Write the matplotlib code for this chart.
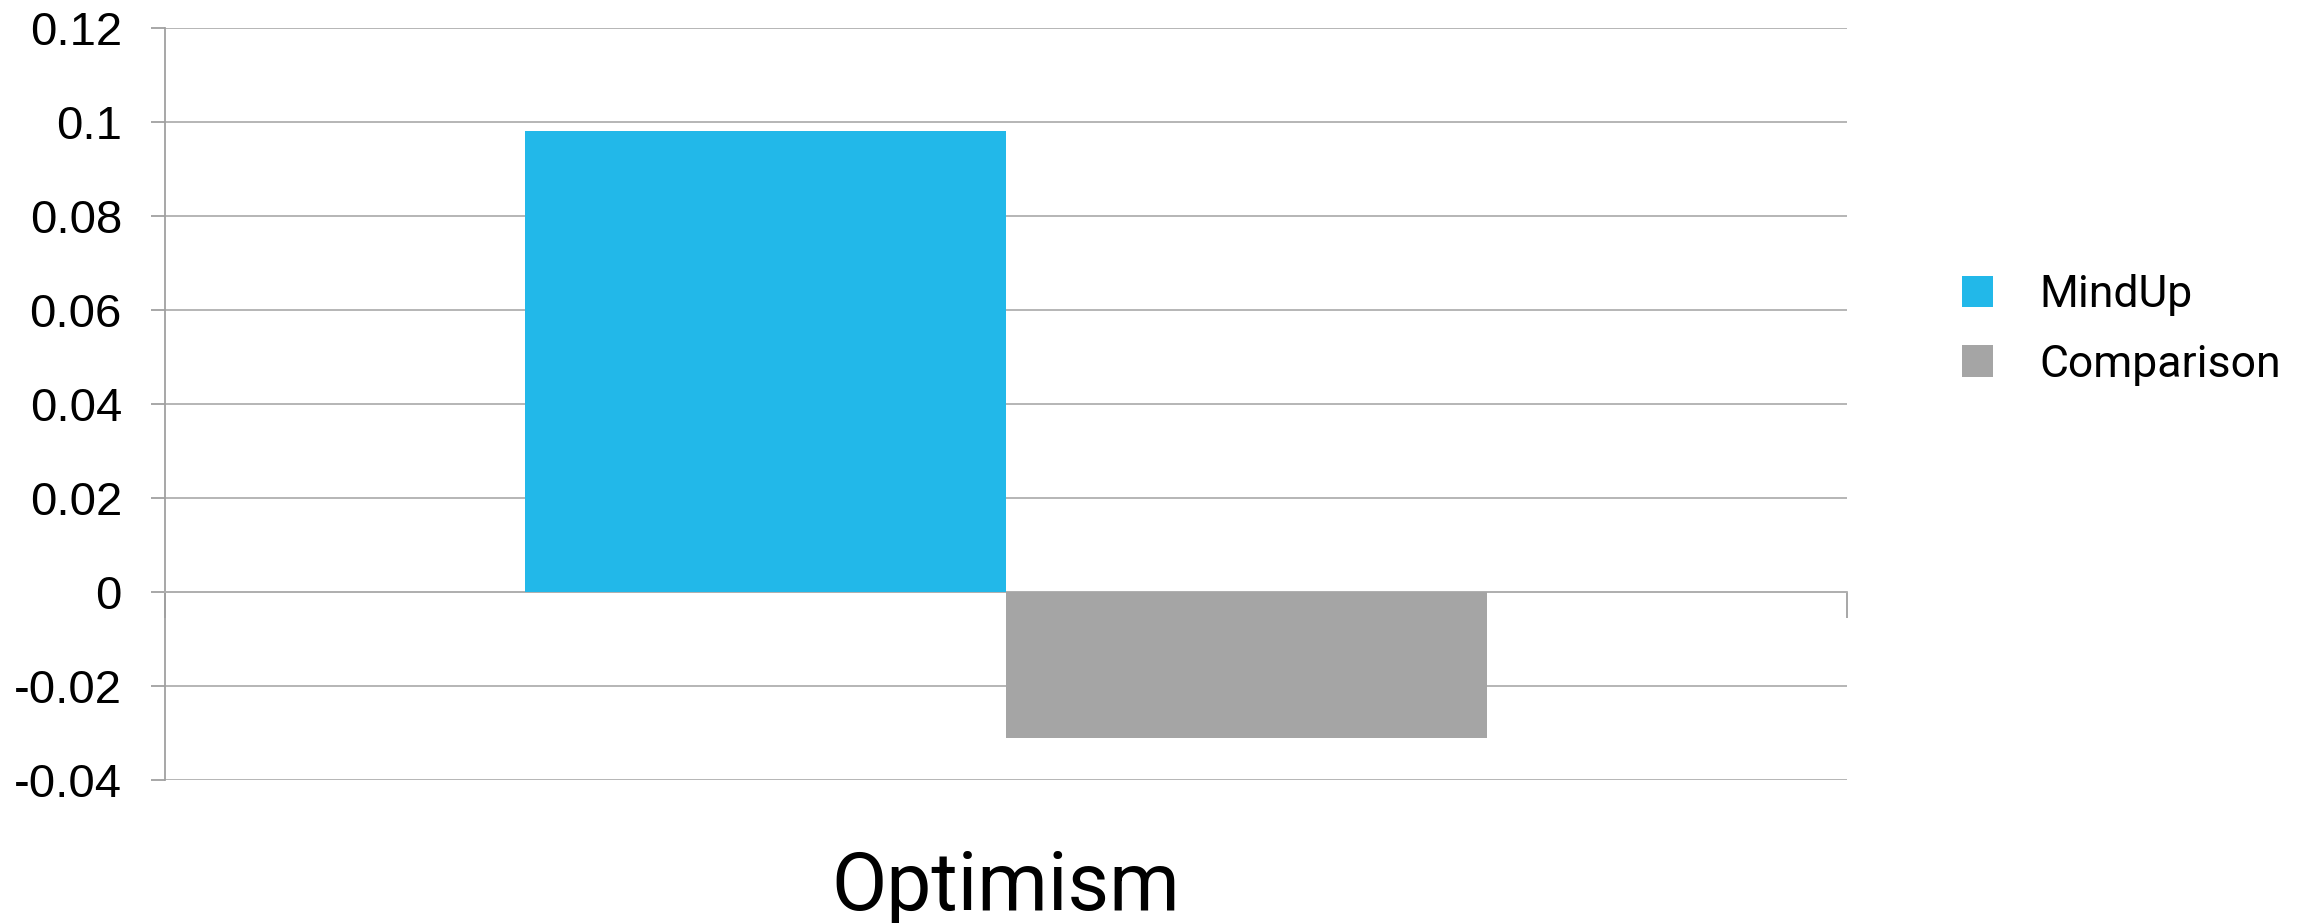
import matplotlib
matplotlib.use("Agg")
from matplotlib import pyplot as plt
from matplotlib.patches import Patch
import numpy as np

# mean change scores, one category
category = "Optimism"
series = ["MindUp", "Comparison"]
values = [0.098, -0.031]
colors = ["#22B8E9", "#A5A5A5"]
yticks = [-0.04, -0.02, 0, 0.02, 0.04, 0.06, 0.08, 0.1, 0.12]
ytick_labels = ["-0.04", "-0.02", "0", "0.02", "0.04", "0.06", "0.08", "0.1", "0.12"]

W, H = 2313, 923
fig = plt.figure(figsize=(W / 100, H / 100), dpi=100)
ax = fig.add_axes([165 / W, 1 - 780 / H, (1847 - 165) / W, (780 - 28) / H])

# clustered bars, 150% gap width
bar_w = 1 / (len(series) + 1.5)
offsets = (np.arange(len(series)) - (len(series) - 1) / 2) * bar_w
for off, v, c, name in zip(offsets, values, colors, series):
    ax.bar(off, v, width=bar_w, color=c, label=name, zorder=3)

ax.set_xlim(-0.5, 0.5)
ax.set_ylim(-0.04, 0.12)
ax.set_yticks(yticks)
ax.set_yticklabels(ytick_labels, fontfamily="Liberation Sans", fontsize=34)
ax.tick_params(axis="y", length=10, width=1.3, color="#a0a0a0", pad=21)
ax.yaxis.grid(True, color="#b0b0b0", linewidth=1.3, zorder=0)

ax.set_xticks([-0.5, 0.5])
ax.set_xticklabels([])
ax.tick_params(axis="x", length=19, width=1.3, color="#a0a0a0", direction="out")

ax.spines["top"].set_visible(False)
ax.spines["right"].set_visible(False)
ax.spines["bottom"].set_position(("data", 0))
ax.spines["bottom"].set_color("#b0b0b0")
ax.spines["bottom"].set_linewidth(1.3)
ax.spines["left"].set_color("#a0a0a0")
ax.spines["left"].set_linewidth(1.3)

fig.text(1006 / W, 1 - 910 / H, category, ha="center", va="baseline",
         fontfamily="Roboto", fontsize=58)

handles = [Patch(facecolor=c, label=s) for c, s in zip(colors, series)]
fig.legend(handles=handles, loc="upper left", bbox_to_anchor=(1962 / W, 1 - 274 / H),
           frameon=False, prop={"family": "Roboto", "size": 32},
           handlelength=0.7, handleheight=0.7, handletextpad=1.05,
           labelspacing=0.62, borderpad=0, borderaxespad=0)

fig.savefig("out.png", dpi=100)
